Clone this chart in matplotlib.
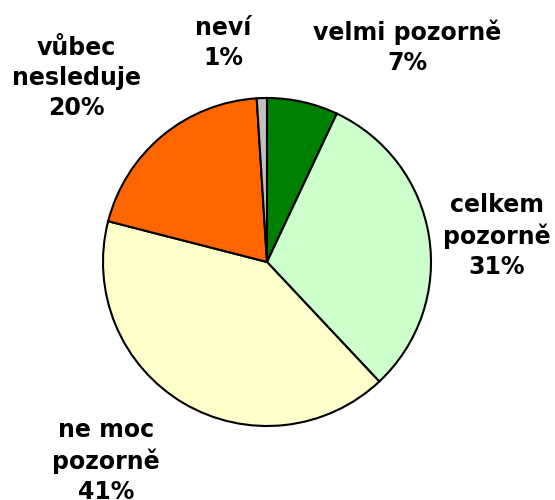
import matplotlib
matplotlib.use("Agg")
import matplotlib.pyplot as plt

# answers and shares (%), clockwise from the top
categories = ["velmi pozorně", "celkem pozorně", "ne moc pozorně", "vůbec nesleduje", "neví"]
label_lines = ["velmi pozorně", "celkem\npozorně", "ne moc\npozorně", "vůbec\nnesleduje", "neví"]
shares = [7, 31, 41, 20, 1]
colors = ["#008000", "#CCFFCC", "#FFFFCC", "#FF6600", "#C0C0C0"]

# label anchor points in figure pixels (x, y from top)
label_pos = [(407, 47), (497, 236), (106, 461), (76, 78), (223, 43)]

fig = plt.figure(figsize=(5.55, 5.0), dpi=100)
ax = fig.add_axes([0, 0, 1, 1])

# y axis runs downward, so -90 with counterclock=True is top, clockwise on screen
ax.pie(
    shares,
    colors=colors,
    startangle=-90,
    counterclock=True,
    center=(267, 262),
    radius=164,
    wedgeprops={"edgecolor": "black", "linewidth": 1.5},
    frame=True,
)
ax.set_xlim(0, 555)
ax.set_ylim(500, 0)
ax.set_aspect("equal")
ax.axis("off")

for text, share, (x, y) in zip(label_lines, shares, label_pos):
    ax.text(x, y, f"{text}\n{share}%", ha="center", va="center",
            fontsize=17, fontweight="bold", linespacing=1.3,
            family="DejaVu Sans")

fig.savefig("out.png", dpi=100)
